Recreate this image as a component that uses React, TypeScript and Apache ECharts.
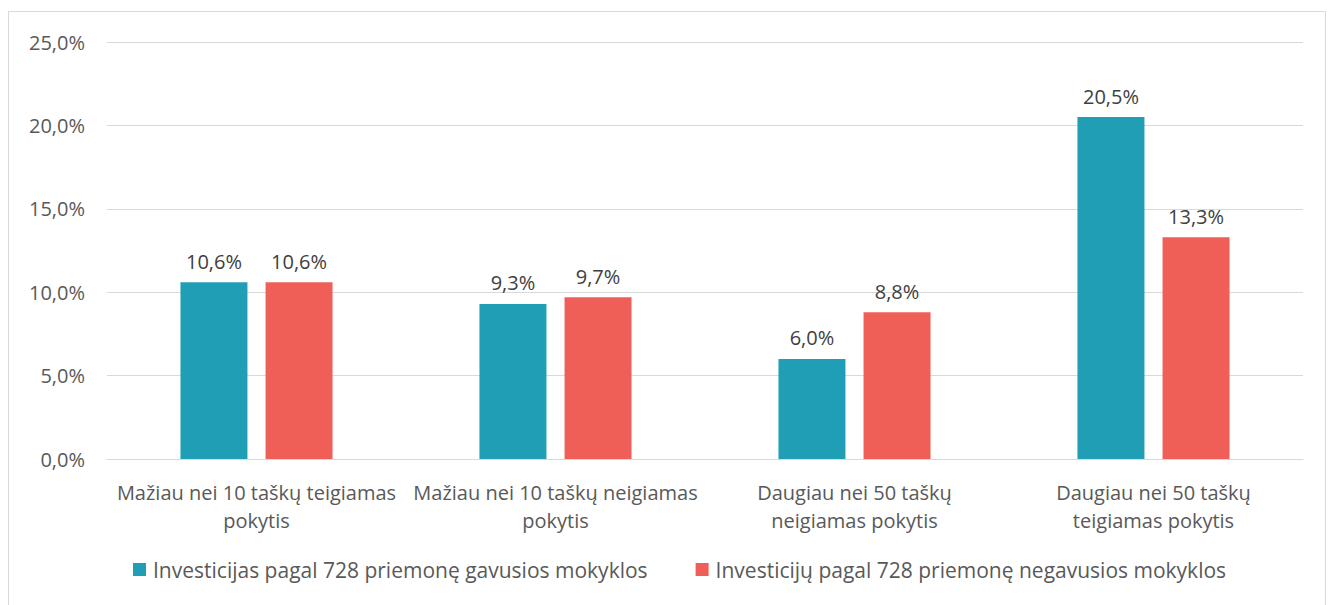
import React, { useEffect, useRef } from "react";
import * as echarts from "echarts";

const categories = [
  "Mažiau nei 10 taškų teigiamas\npokytis",
  "Mažiau nei 10 taškų neigiamas\npokytis",
  "Daugiau nei 50 taškų\nneigiamas pokytis",
  "Daugiau nei 50 taškų\nteigiamas pokytis",
];
const seriesNames = [
  "Investicijas pagal 728 priemonę gavusios mokyklos",
  "Investicijų pagal 728 priemonę negavusios mokyklos",
];
const received = [10.6, 9.3, 6.0, 20.5];
const notReceived = [10.6, 9.7, 8.8, 13.3];

const FONT = "'Open Sans', sans-serif";
const fmt = (v: number) => v.toFixed(1).replace(".", ",") + "%";

export default function App() {
  const ref = useRef<HTMLDivElement>(null);
  useEffect(() => {
    if (!ref.current) return;
    const chart = echarts.init(ref.current, null, { renderer: "svg" });
    const label = {
      show: true,
      position: "top" as const,
      distance: 11,
      color: "#404040",
      fontFamily: FONT,
      fontSize: 20,
      formatter: (p: any) => fmt(p.value),
    };
    chart.setOption({
      animation: false,
      textStyle: { fontFamily: FONT },
      grid: { left: 107, right: 30, top: 42, bottom: 146, containLabel: false },
      legend: {
        bottom: 20,
        left: 128,
        itemWidth: 13,
        itemHeight: 13,
        itemGap: 48,
        icon: "rect",
        textStyle: { color: "#595959", fontSize: 21, fontFamily: FONT, padding: [0, 0, 0, 2] },
        data: seriesNames,
      },
      xAxis: {
        type: "category",
        data: categories,
        axisLine: { lineStyle: { color: "#D9D9D9", width: 1 } },
        axisTick: { show: false },
        axisLabel: {
          interval: 0,
          color: "#595959",
          fontSize: 20,
          fontFamily: FONT,
          margin: 19,
          lineHeight: 28,
        },
      },
      yAxis: {
        type: "value",
        min: 0,
        max: 25,
        interval: 5,
        axisLine: { show: false },
        axisTick: { show: false },
        splitLine: { lineStyle: { color: "#D9D9D9", width: 1 } },
        axisLabel: {
          color: "#595959",
          fontSize: 20,
          fontFamily: FONT,
          margin: 22,
          formatter: (v: number) => fmt(v),
        },
      },
      series: [
        {
          name: seriesNames[0],
          type: "bar",
          data: received,
          barWidth: 67,
          barGap: "27%",
          itemStyle: { color: "#209EB6" },
          label,
        },
        {
          name: seriesNames[1],
          type: "bar",
          data: notReceived,
          barWidth: 67,
          barGap: "27%",
          itemStyle: { color: "#EF5F58" },
          label,
        },
      ],
    });
    return () => chart.dispose();
  }, []);
  return (
    <div style={{ position: "absolute", left: 0, top: 0, width: 1333, height: 605, background: "#fff" }}>
      <div
        style={{
          position: "absolute",
          left: 8,
          top: 11,
          width: 1318,
          height: 600,
          border: "1px solid #D9D9D9",
          boxSizing: "border-box",
        }}
      />
      <div ref={ref} style={{ position: "absolute", left: 0, top: 0, width: 1333, height: 605 }} />
    </div>
  );
}
